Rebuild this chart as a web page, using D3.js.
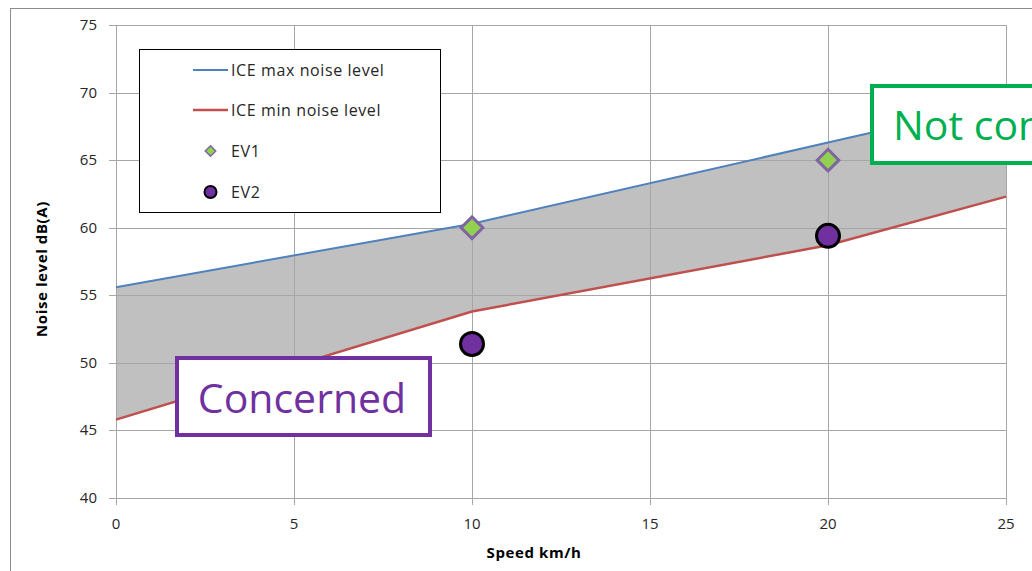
<!DOCTYPE html>
<html>
<head>
<meta charset="utf-8">
<script src="https://cdn.jsdelivr.net/npm/d3@7"></script>
<style>
  body { margin: 0; background: #fff; }
  svg { display: block; font-family: "Open Sans", Lato, sans-serif; }
</style>
</head>
<body>
<svg id="canvas"></svg>
<script>
// speeds along the x axis (km/h)
let speeds = [0, 10, 20, 25];
let iceMax = [55.6, 60.3, 66.3, 69.3];
let iceMin = [45.8, 53.8, 58.7, 62.3];

// measured electric vehicles
let evSpeeds = [10, 20];
let ev1 = [60, 65];
let ev2 = [51.4, 59.4];

let xTicks = [0, 5, 10, 15, 20, 25];
let yTicks = [40, 45, 50, 55, 60, 65, 70, 75];

let width = 1032;
let height = 571;
let margin = {left: 116, right: 26, top: 25, bottom: 73};

let svg = d3.select('#canvas')
    .attr('width', width)
    .attr('height', height);

// outer chart frame (runs off the picture on right and bottom)
svg.append('rect')
    .attr('x', 10.5).attr('y', 8.5)
    .attr('width', 1100).attr('height', 700)
    .attr('fill', 'none')
    .attr('stroke', '#8c8c8c');

let xScale = d3.scaleLinear()
    .domain([0, 25])
    .range([margin.left, width - margin.right]);

let yScale = d3.scaleLinear()
    .domain([40, 75])
    .range([height - margin.bottom, margin.top]);

/*grid lines with outside tick marks*/
let grid = svg.append('g').attr('stroke', '#a6a6a6').attr('stroke-width', 1);
grid.selectAll('.hg')
    .data(yTicks)
    .enter()
    .append('line')
    .attr('x1', xScale(0) - 7).attr('x2', xScale(25))
    .attr('y1', d => Math.round(yScale(d)) + 0.5)
    .attr('y2', d => Math.round(yScale(d)) + 0.5);
grid.selectAll('.vg')
    .data(xTicks)
    .enter()
    .append('line')
    .attr('y1', yScale(75)).attr('y2', yScale(40) + 7)
    .attr('x1', d => Math.round(xScale(d)) + 0.5)
    .attr('x2', d => Math.round(xScale(d)) + 0.5);

/*shaded band between min and max*/
let band = speeds.map((s, i) => ({s: s, lo: iceMin[i], hi: iceMax[i]}));
svg.append('path')
    .datum(band)
    .attr('fill', '#c0c0c0')
    .attr('d', d3.area()
        .x(d => xScale(d.s))
        .y0(d => yScale(d.lo))
        .y1(d => yScale(d.hi)));

// redraw grid on top of band, like Excel does
let grid2 = svg.append('g').attr('stroke', '#a6a6a6').attr('stroke-width', 1);
grid2.selectAll('line')
    .data(yTicks.slice(1, -1))
    .enter()
    .append('line')
    .attr('x1', xScale(0)).attr('x2', xScale(25))
    .attr('y1', d => Math.round(yScale(d)) + 0.5)
    .attr('y2', d => Math.round(yScale(d)) + 0.5);
grid2.selectAll('.v')
    .data(xTicks)
    .enter()
    .append('line')
    .attr('y1', yScale(75)).attr('y2', yScale(40))
    .attr('x1', d => Math.round(xScale(d)) + 0.5)
    .attr('x2', d => Math.round(xScale(d)) + 0.5);

let line = d3.line()
    .x(d => xScale(d[0]))
    .y(d => yScale(d[1]));

svg.append('path')
    .datum(speeds.map((s, i) => [s, iceMax[i]]))
    .attr('fill', 'none')
    .attr('stroke', '#4f81bd')
    .attr('stroke-width', 2)
    .attr('d', line);

svg.append('path')
    .datum(speeds.map((s, i) => [s, iceMin[i]]))
    .attr('fill', 'none')
    .attr('stroke', '#c0504d')
    .attr('stroke-width', 2.5)
    .attr('d', line);

/*tick labels*/
svg.append('g')
    .selectAll('text')
    .data(yTicks)
    .enter()
    .append('text')
    .attr('x', 97)
    .attr('y', d => yScale(d) + 5)
    .attr('text-anchor', 'end')
    .attr('font-size', 15)
    .attr('fill', '#262626')
    .text(d => d);

svg.append('g')
    .selectAll('text')
    .data(xTicks)
    .enter()
    .append('text')
    .attr('x', d => xScale(d))
    .attr('y', 529)
    .attr('text-anchor', 'middle')
    .attr('font-size', 15)
    .attr('fill', '#262626')
    .text(d => d);

/*axis titles*/
svg.append('text')
    .attr('transform', 'translate(47,269) rotate(-90)')
    .attr('text-anchor', 'middle')
    .attr('font-size', 15)
    .attr('letter-spacing', 0.6)
    .attr('font-weight', 'bold')
    .text('Noise level dB(A)');

svg.append('text')
    .attr('x', 534)
    .attr('y', 558)
    .attr('text-anchor', 'middle')
    .attr('font-size', 15)
    .attr('letter-spacing', 0.6)
    .attr('font-weight', 'bold')
    .text('Speed km/h');

/*EV markers*/
let diamond = d3.symbol().type(d3.symbolDiamond2).size(300);
svg.append('g')
    .selectAll('path')
    .data(evSpeeds.map((s, i) => [s, ev1[i]]))
    .enter()
    .append('path')
    .attr('transform', d => 'translate(' + xScale(d[0]) + ',' + yScale(d[1]) + ')')
    .attr('d', diamond)
    .attr('fill', '#92d050')
    .attr('stroke', '#8064a2')
    .attr('stroke-width', 3);

svg.append('g')
    .selectAll('circle')
    .data(evSpeeds.map((s, i) => [s, ev2[i]]))
    .enter()
    .append('circle')
    .attr('cx', d => xScale(d[0]))
    .attr('cy', d => yScale(d[1]))
    .attr('r', 11.5)
    .attr('fill', '#7030a0')
    .attr('stroke', '#000')
    .attr('stroke-width', 3);

/*legend*/
let legend = svg.append('g');
legend.append('rect')
    .attr('x', 139.5).attr('y', 49.5)
    .attr('width', 301).attr('height', 163)
    .attr('fill', '#fff')
    .attr('stroke', '#000');

let legendNames = ['ICE max noise level', 'ICE min noise level', 'EV1', 'EV2'];
let rowY = [70, 110, 151, 192];

legend.append('line')
    .attr('x1', 193).attr('x2', 228)
    .attr('y1', rowY[0]).attr('y2', rowY[0])
    .attr('stroke', '#4f81bd').attr('stroke-width', 2);
legend.append('line')
    .attr('x1', 193).attr('x2', 228)
    .attr('y1', rowY[1]).attr('y2', rowY[1])
    .attr('stroke', '#c0504d').attr('stroke-width', 2.5);
legend.append('path')
    .attr('transform', 'translate(210.5,' + rowY[2] + ')')
    .attr('d', d3.symbol().type(d3.symbolDiamond2).size(70))
    .attr('fill', '#92d050')
    .attr('stroke', '#8064a2')
    .attr('stroke-width', 1.5);
legend.append('circle')
    .attr('cx', 210.5).attr('cy', rowY[3])
    .attr('r', 6)
    .attr('fill', '#7030a0')
    .attr('stroke', '#000')
    .attr('stroke-width', 2);

legend.selectAll('.lt')
    .data(legendNames)
    .enter()
    .append('text')
    .attr('x', 231)
    .attr('y', (d, i) => rowY[i] + 6)
    .attr('font-size', 16)
    .attr('letter-spacing', 0.6)
    .attr('fill', '#262626')
    .text(d => d);

/*callout boxes*/
svg.append('rect')
    .attr('x', 177).attr('y', 358)
    .attr('width', 253).attr('height', 77)
    .attr('fill', '#fff')
    .attr('stroke', '#7030a0')
    .attr('stroke-width', 4);
svg.append('text')
    .attr('x', 302)
    .attr('y', 413)
    .attr('text-anchor', 'middle')
    .attr('font-size', 41)
    .attr('fill', '#7030a0')
    .text('Concerned');

svg.append('rect')
    .attr('x', 872).attr('y', 86)
    .attr('width', 300).attr('height', 77)
    .attr('fill', '#fff')
    .attr('stroke', '#00b050')
    .attr('stroke-width', 4);
svg.append('text')
    .attr('x', 893)
    .attr('y', 140)
    .attr('font-size', 41)
    .attr('fill', '#00b050')
    .text('Not concerned');
</script>
</body>
</html>
